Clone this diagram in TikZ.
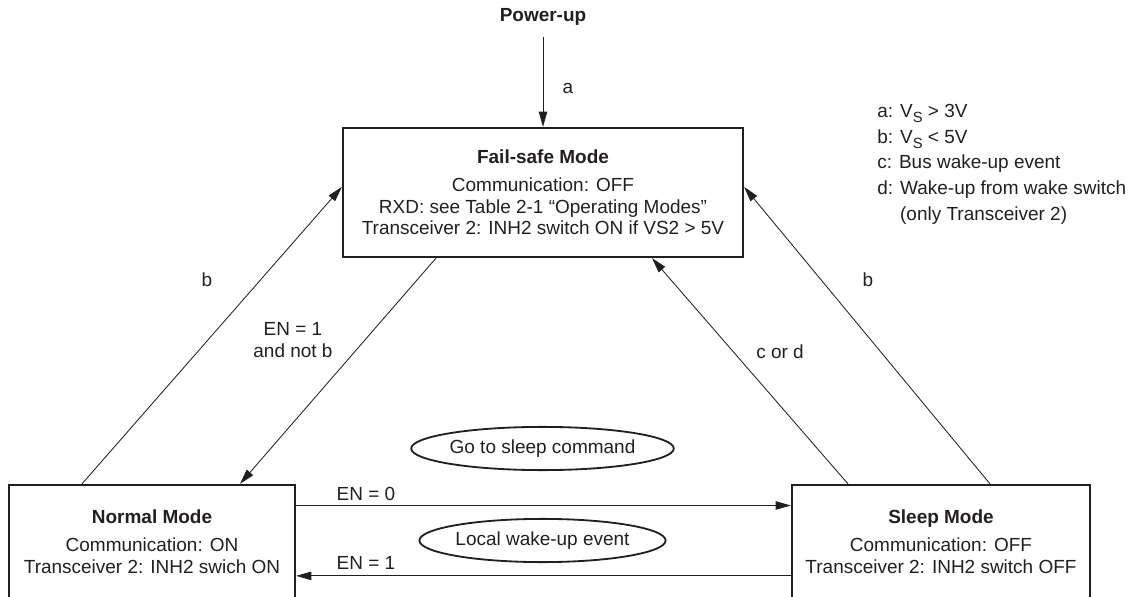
\documentclass[tikz,border=0pt]{standalone}
\usepackage{fontspec}
\setmainfont{Liberation Sans}
\usepackage{xcolor}
\definecolor{ink}{HTML}{231F20}
\usepackage{tikz}
\usetikzlibrary{arrows.meta, shapes.geometric}
\newcommand{\lowidx}[1]{\raisebox{-0.5ex}{\fontsize{10.5}{10.5}\selectfont #1}}
\newcommand{\legendfont}{\fontsize{13.5}{18.3}\selectfont\lineskiplimit=-10pt\relax}
\tikzset{
	every node/.style={font=\fontsize{13.5}{15.6}\selectfont, text=ink},
	modebox/.style={draw=ink, line width=1.6pt, align=center, minimum height=2.825cm},
	condell/.style={draw=ink, ellipse, line width=1.3pt, minimum width=6.1cm, minimum height=1.08cm, inner sep=0pt},
	transarr/.style={-{Triangle[length=3.8mm, width=2.1mm]}, draw=ink, line width=0.6pt},
}

\begin{document}
\begin{tikzpicture}
	\useasboundingbox (0,0) rectangle (28.425,-14.925);
	% states
	\node[modebox, minimum width=10cm, minimum height=3.225cm] (fail) at (13.575,-4.8125) {\textbf{Fail-safe Mode}\\[4pt] Communication: OFF\\ RXD: see Table 2-1 “Operating Modes”\\ Transceiver 2: INH2 switch ON if VS2 > 5V};
	\node[modebox, minimum width=7.15cm] (normal) at (3.8,-13.5375) {\textbf{Normal Mode}\\[4pt] Communication: ON\\ Transceiver 2: INH2 swich ON};
	\node[modebox, minimum width=7.45cm] (sleep) at (23.525,-13.5375) {\textbf{Sleep Mode}\\[4pt] Communication: OFF\\ Transceiver 2: INH2 switch OFF};
	\node[condell] (gosleep) at (13.5625,-11.2125) {Go to sleep command};
	\node[condell] (localwake) at (13.5625,-13.5125) {Local wake-up event};
	% power-up
	\node (pwr) at (13.575,-0.425) {\textbf{Power-up}};
	\coordinate (pwrtop) at (13.575,-0.925);
	\draw[transarr] (pwrtop) -- (fail.north);
	% transitions
	\draw[transarr] ([xshift=-1.75cm]normal.north) -- ([yshift=0.14cm]fail.west);
	\draw[transarr] ([xshift=-2.675cm]fail.south) -- ([xshift=2.2cm]normal.north);
	\draw[transarr] ([xshift=-2.325cm]sleep.north) -- ([xshift=2.725cm]fail.south);
	\draw[transarr] ([xshift=1.225cm]sleep.north) -- ([yshift=0.14cm]fail.east);
	\draw[transarr] ([yshift=0.9cm]normal.east) -- ([yshift=0.9cm]sleep.west);
	\draw[transarr] ([yshift=-0.86cm]sleep.west) -- ([yshift=-0.86cm]normal.east);
	% labels
	\node (lbla) at (14.2,-2.2) {a};
	\node (lblbleft) at (5.175,-7.0) {b};
	\node[align=center] (lblen) at (7.325,-8.5) {EN = 1\\ and not b};
	\node (lblcd) at (19.5,-8.8) {c or d};
	\node (lblbright) at (21.7,-7.0) {b};
	\node (lblen0) at (9.15,-12.35) {EN = 0};
	\node (lblen1) at (9.15,-14.075) {EN = 1};
	% legend
	\node[anchor=north west, align=left, inner sep=0pt, font=\legendfont] (legend) at (21.925,-2.6) {a: V\lowidx{S} > 3V\\ b: V\lowidx{S} < 5V\\ c: Bus wake-up event\\ d: Wake-up from wake switch\\ \phantom{d: }(only Transceiver 2)};
\end{tikzpicture}
\end{document}
